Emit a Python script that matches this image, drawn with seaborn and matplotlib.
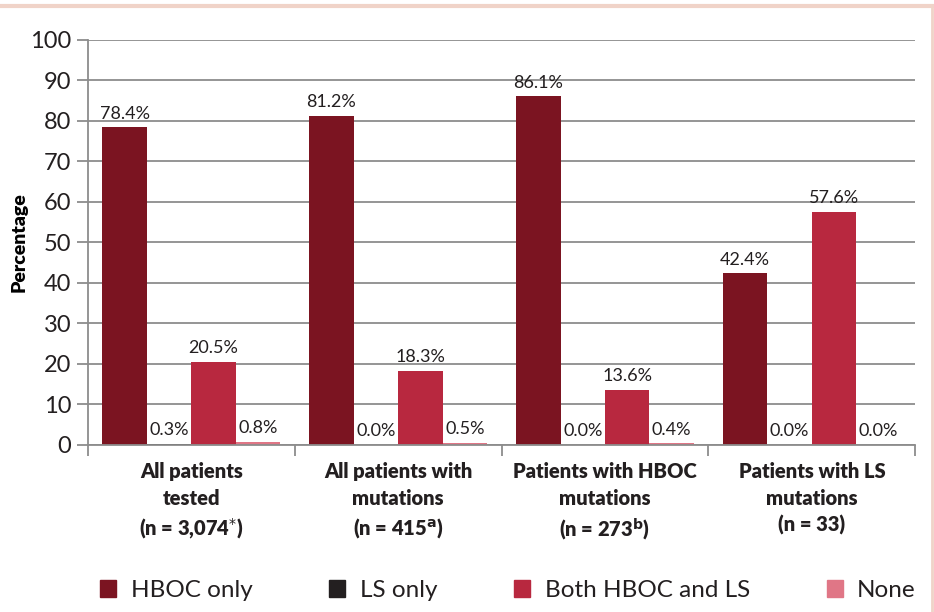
import matplotlib
matplotlib.use("Agg")
import matplotlib.pyplot as plt
import seaborn as sns
import pandas as pd
from matplotlib.patches import Rectangle

groups = ["All patients\ntested\n(n = 3,074$^{*}$)",
          "All patients with\nmutations\n(n = 415$^{\\mathbf{a}}$)",
          "Patients with HBOC\nmutations\n(n = 273$^{\\mathbf{b}}$)",
          "Patients with LS\nmutations\n(n = 33)"]
series = ["HBOC only", "LS only", "Both HBOC and LS", "None"]
hboc_only = [78.4, 81.2, 86.1, 42.4]
ls_only = [0.3, 0.0, 0.0, 0.0]
both = [20.5, 18.3, 13.6, 57.6]
none = [0.8, 0.5, 0.4, 0.0]
colors = ["#7b1421", "#231f20", "#b8283f", "#e07686"]

rows = []
for name, vals in zip(series, [hboc_only, ls_only, both, none]):
    for g, v in zip(groups, vals):
        rows.append({"group": g, "series": name, "value": v})
df = pd.DataFrame(rows)

sns.set_style("white")
plt.rcParams['font.family'] = ['Lato', 'DejaVu Sans']

fig = plt.figure(figsize=(9.34, 6.12), dpi=100)
ax = fig.add_axes([0.094, 0.273, 0.886, 0.662])

sns.barplot(data=df, x="group", y="value", hue="series", palette=colors,
            width=0.86, saturation=1, ax=ax, legend=False, linewidth=0)

for cont in ax.containers:
    ax.bar_label(cont, fmt="%.1f%%", padding=4, fontsize=13, color="#231f20")

ax.set_ylim(0, 100)
ax.set_xlim(-0.5, 3.5)
ax.set_yticks(range(0, 101, 10))
ax.yaxis.grid(True, color="#8c8c8c", linewidth=1.3)
ax.set_axisbelow(True)
for s in ["top", "right"]:
    ax.spines[s].set_visible(False)
for s in ["left", "bottom"]:
    ax.spines[s].set_color("#8c8c8c")
    ax.spines[s].set_linewidth(1.3)

ax.tick_params(axis="y", length=8, width=1.3, color="#8c8c8c", labelsize=17,
               labelcolor="#231f20", left=True, pad=4)
ax.set_xticks([-0.5, 0.5, 1.5, 2.5, 3.5])
ax.set_xticklabels([])
ax.tick_params(axis="x", length=8, width=1.3, color="#8c8c8c", bottom=True)
for i, g in enumerate(groups):
    ax.text(i, -4.3, g, ha="center", va="top", fontsize=14.5, fontweight="heavy",
            color="#231f20", linespacing=1.45, transform=ax.transData)

ax.set_xlabel("")
ax.set_ylabel("Percentage", fontsize=14, fontweight="heavy", color="black")
ax.yaxis.set_label_coords(-0.073, 0.5)

handles = [Rectangle((0, 0), 1, 1, color=c) for c in colors]
fig.legend(handles, series, loc="lower left", bbox_to_anchor=(0.084, -0.018, 0.92, 0.08),
           ncol=4, mode="expand", frameon=False, fontsize=17.5, handlelength=0.65,
           handleheight=0.65, handletextpad=0.6, labelcolor="#231f20")

# page border lines
fig.add_artist(plt.Line2D([0, 1], [0.99, 0.99], color="#f0d3c8", linewidth=3,
                          transform=fig.transFigure))
fig.add_artist(plt.Line2D([0.998, 0.998], [0, 0.99], color="#f0d3c8", linewidth=2,
                          transform=fig.transFigure))

fig.savefig("out.png", dpi=100)
